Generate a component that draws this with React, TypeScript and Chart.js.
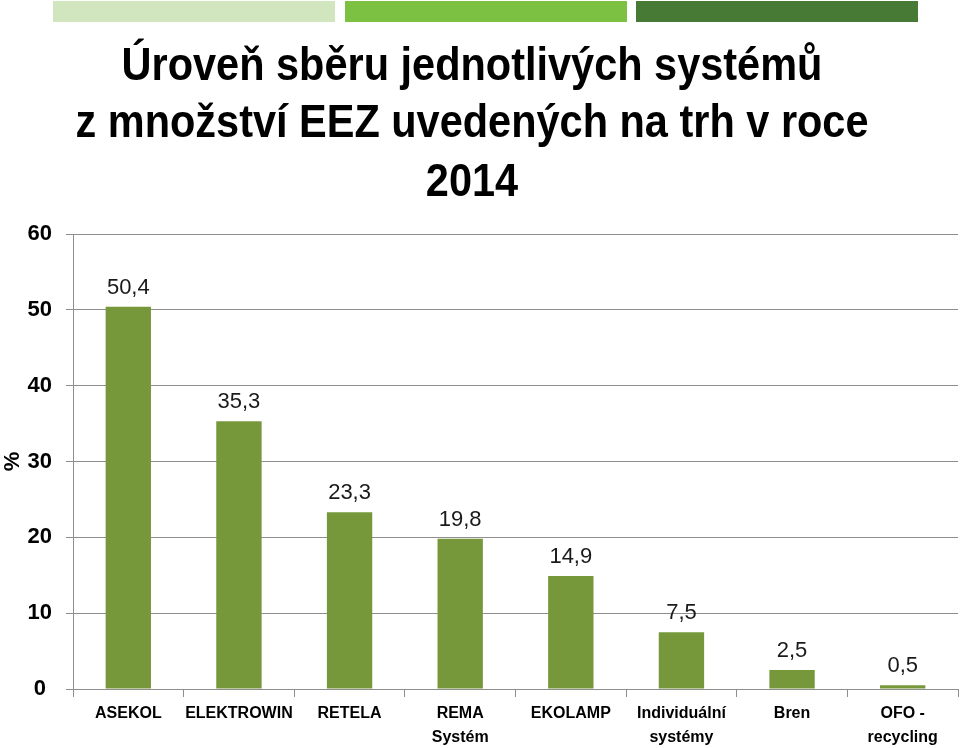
import React, { useEffect, useRef } from "react";
import { Chart, registerables } from "chart.js";

Chart.register(...registerables);

const categories: string[][] = [
  ["ASEKOL"],
  ["ELEKTROWIN"],
  ["RETELA"],
  ["REMA", "Systém"],
  ["EKOLAMP"],
  ["Individuální", "systémy"],
  ["Bren"],
  ["OFO -", "recycling"],
];
const values: number[] = [50.4, 35.3, 23.3, 19.8, 14.9, 7.5, 2.5, 0.5];
const titleLines: string[] = [
  "Úroveň sběru jednotlivých systémů",
  "z množství EEZ uvedených na trh v roce",
  "2014",
];
const yAxisTitle = "%";
const yMin = 0;
const yMax = 60;
const yStep = 10;

const barColor = "#77983a";
const gridColor = "#8e8e8e";
const FONT = "'Liberation Sans', Arial, sans-serif";

const titlePlugin = {
  id: "customTitle",
  afterDraw(chart: any) {
    const ctx = chart.ctx;
    ctx.save();
    ctx.fillStyle = "#000000";
    ctx.font = `bold 47px ${FONT}`;
    ctx.textAlign = "center";
    ctx.textBaseline = "alphabetic";
    const w = ctx.measureText(titleLines[1]).width;
    const sx = 793 / w;
    const baselines = [80, 137, 196];
    titleLines.forEach((t, i) => {
      ctx.save();
      ctx.translate(472, baselines[i]);
      ctx.scale(sx, 1);
      ctx.fillText(t, 0, 0);
      ctx.restore();
    });
    ctx.restore();
  },
};

const labelPlugin = {
  id: "valueLabels",
  afterDatasetsDraw(chart: any) {
    const ctx = chart.ctx;
    const meta = chart.getDatasetMeta(0);
    ctx.save();
    ctx.fillStyle = "#1a1a1a";
    ctx.font = `22px ${FONT}`;
    ctx.textAlign = "center";
    ctx.textBaseline = "bottom";
    meta.data.forEach((el: any, i: number) => {
      const txt = String(values[i]).replace(".", ",");
      ctx.fillText(txt, el.x, el.y - 8);
    });
    ctx.restore();
  },
};

export default function App() {
  const ref = useRef<HTMLCanvasElement | null>(null);
  useEffect(() => {
    if (!ref.current) return;
    const chart = new Chart(ref.current, {
      type: "bar",
      data: {
        labels: categories,
        datasets: [
          {
            data: values,
            backgroundColor: barColor,
            borderWidth: 0,
            barPercentage: 0.41,
            categoryPercentage: 1,
          },
        ],
      },
      options: {
        responsive: false,
        animation: false,
        layout: { padding: { top: 234, right: 2, bottom: 0, left: 0 } },
        plugins: {
          legend: { display: false },
          title: { display: false },
          tooltip: { enabled: false },
        },
        scales: {
          x: {
            afterFit(scale: any) {
              scale.height = 59;
            },
            grid: {
              display: true,
              drawOnChartArea: false,
              drawTicks: true,
              tickLength: 8,
              color: gridColor,
              offset: true,
            },
            border: { display: true, color: gridColor, width: 1 },
            ticks: {
              color: "#000000",
              font: { family: FONT, size: 16, weight: "bold", lineHeight: 1.5 },
              padding: 5,
              maxRotation: 0,
              autoSkip: false,
            },
          },
          y: {
            min: yMin,
            max: yMax,
            afterFit(scale: any) {
              scale.width = 73;
            },
            grid: {
              color: gridColor,
              drawTicks: true,
              tickLength: 7,
            },
            border: { display: true, color: gridColor, width: 1 },
            ticks: {
              stepSize: yStep,
              color: "#000000",
              font: { family: FONT, size: 22, weight: "bold" },
              padding: 14,
              crossAlign: "center",
            },
            title: {
              display: true,
              text: yAxisTitle,
              color: "#000000",
              font: { family: FONT, size: 22, weight: "bold" },
              padding: 0,
            },
          },
        },
      },
      plugins: [titlePlugin, labelPlugin],
    } as any);
    return () => chart.destroy();
  }, []);

  const deco = [
    { left: 53, width: 282, color: "#d1e5be" },
    { left: 345, width: 282, color: "#7cc142" },
    { left: 636, width: 282, color: "#467a35" },
  ];

  return (
    <div style={{ position: "absolute", left: 0, top: 0, width: 960, height: 748, background: "#ffffff" }}>
      {deco.map((d, i) => (
        <div
          key={i}
          style={{ position: "absolute", left: d.left, top: 1, width: d.width, height: 21, background: d.color }}
        />
      ))}
      <canvas ref={ref} width={960} height={748} style={{ position: "absolute", left: 0, top: 0 }} />
    </div>
  );
}
